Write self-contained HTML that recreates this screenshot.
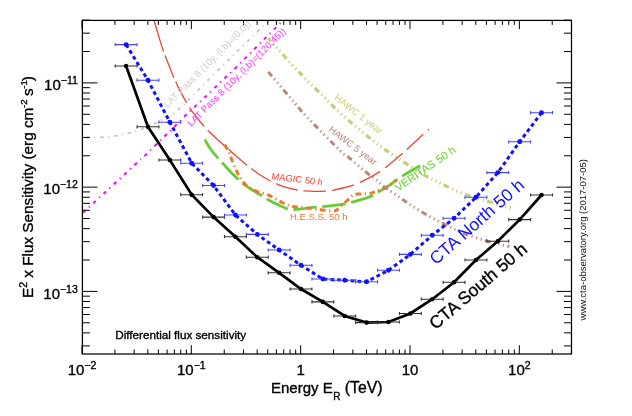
<!DOCTYPE html>
<html><head><meta charset="utf-8"><style>html,body{margin:0;padding:0;background:#fff;width:632px;height:416px;overflow:hidden}svg{display:block}</style></head><body>
<svg width="632" height="416" viewBox="0 0 632 416">
<rect width="632" height="416" fill="#fff"/>
<defs><clipPath id="fr"><rect x="82.4" y="20.4" width="489.1" height="333.6"/></clipPath></defs>
<g clip-path="url(#fr)" fill="none">
<path d="M82,137.6 C85,137.55 94.77,137.52 100,137.3 C105.23,137.08 108.8,136.95 113.4,136.3 C118,135.65 123.17,134.52 127.6,133.4 C132.03,132.28 135.43,131.27 140,129.6 C144.57,127.93 150.83,125.27 155,123.4 C159.17,121.53 162.07,119.9 165,118.4 C167.93,116.9 169.63,116.57 172.6,114.4 C175.57,112.23 179.48,108.48 182.8,105.4 C186.12,102.32 188.53,99.85 192.5,95.9 C196.47,91.95 201,87.32 206.6,81.7 C212.2,76.08 219.48,68.72 226.1,62.2 C232.72,55.68 239.15,49.58 246.3,42.6 C253.45,35.62 265.05,24.23 269,20.3 C272.95,16.37 269.83,19.22 270,19" stroke="#c8c8c8" stroke-width="1.8" stroke-dasharray="3.48 4.64 1.16 4.64" stroke-dashoffset="9.8"/>
<path d="M82,213.7 C85.77,210.22 95.8,200.95 104.6,192.8 C113.4,184.65 128.07,171.02 134.8,164.8 C141.53,158.58 140.05,160.25 145,155.5 C149.95,150.75 160.37,140.32 164.5,136.3 C168.63,132.28 166.52,134.68 169.8,131.4 C173.08,128.12 180.12,120.63 184.2,116.6 C188.28,112.57 190.93,110.37 194.3,107.2 C197.67,104.03 199.4,102.37 204.4,97.6 C209.4,92.83 219.3,83.35 224.3,78.6 C229.3,73.85 231.08,72.32 234.4,69.1 C237.72,65.88 240.93,62.58 244.2,59.3 C247.47,56.02 250.75,52.67 254,49.4 C257.25,46.13 260.47,42.93 263.7,39.7 C266.93,36.47 270.08,33.35 273.4,30 C276.72,26.65 281.67,21.6 283.6,19.6 C285.53,17.6 284.77,18.27 285,18" stroke="#ff00ff" stroke-width="2" stroke-dasharray="3.48 4.64 1.16 4.64" stroke-dashoffset="12.4"/>
<path d="M153.7,19 C154.5,21.75 156.9,30.22 158.5,35.5 C160.1,40.78 161.63,45.92 163.3,50.7 C164.97,55.48 166.75,59.75 168.5,64.2 C170.25,68.65 171.88,73 173.8,77.4 C175.72,81.8 177.9,86.43 180,90.6 C182.1,94.77 184.23,98.73 186.4,102.4 C188.57,106.07 190.07,108.63 193,112.6 C195.93,116.57 200.33,122.08 204,126.2 C207.67,130.32 211.35,133.85 215,137.3 C218.65,140.75 222.57,143.97 225.9,146.9 C229.23,149.83 231.55,151.88 235,154.9 C238.45,157.92 242.77,161.9 246.6,165 C250.43,168.1 254.03,170.83 258,173.5 C261.97,176.17 266.73,179.03 270.4,181 C274.07,182.97 276.73,184.07 280,185.3 C283.27,186.53 287,187.58 290,188.4 C293,189.22 295.63,189.78 298,190.2 C300.37,190.62 301.37,190.72 304.2,190.9 C307.03,191.08 311.3,191.28 315,191.3 C318.7,191.32 323.5,191.17 326.4,191 C329.3,190.83 329.63,190.8 332.4,190.3 C335.17,189.8 339.4,188.92 343,188 C346.6,187.08 351.17,185.73 354,184.8 C356.83,183.87 357.33,183.63 360,182.4 C362.67,181.17 366.68,179.2 370,177.4 C373.32,175.6 377.35,173.2 379.9,171.6 C382.45,170 383.62,169.08 385.3,167.8 C386.98,166.52 387.55,165.95 390,163.9 C392.45,161.85 396.67,158.38 400,155.5 C403.33,152.62 406.12,150.13 410,146.6 C413.88,143.07 420.13,137.18 423.3,134.3 C426.47,131.42 428.05,130.13 429,129.3" stroke="#ee4433" stroke-width="1.3" stroke-dasharray="34.03 4.04 24.25 3.92 23.99 5.78 23.78 4.98 24.34 4.13 24.29 5.34 23.22 6 22.78 5.85 22.21 6.24 22.71 6.47 22.78 6.36 22.74 5.62 22.43 6 6.58 0"/>
<path d="M204.8,139.5 C205.8,141.17 208.55,146.33 210.8,149.5 C213.05,152.67 216.22,156.1 218.3,158.5 C220.38,160.9 221.35,161.78 223.3,163.9 C225.25,166.02 227.68,168.77 230,171.2 C232.32,173.63 235.03,176.42 237.2,178.5 C239.37,180.58 240.62,181.87 243,183.7 C245.38,185.53 248.62,187.65 251.5,189.5 C254.38,191.35 257.22,192.92 260.3,194.8 C263.38,196.68 265.75,198.57 270,200.8 C274.25,203.03 282,206.75 285.8,208.2 C289.6,209.65 289.93,209.4 292.8,209.5 C295.67,209.6 299.32,209.18 303,208.8 C306.68,208.42 311.75,207.55 314.9,207.2 C318.05,206.85 317.15,207.2 321.9,206.7 C326.65,206.2 337.05,205.35 343.4,204.2 C349.75,203.05 355.42,201.1 360,199.8 C364.58,198.5 367.9,197.67 370.9,196.4 C373.9,195.13 374.82,194.12 378,192.2 C381.18,190.28 386.22,187.43 390,184.9 C393.78,182.37 397.37,179.23 400.7,177 C404.03,174.77 406.8,173.38 410,171.5 C413.2,169.62 418.25,166.67 419.9,165.7" stroke="#66cc33" stroke-width="2.8" stroke-dasharray="23.2 5.8"/>
<path d="M224.5,144.5 C225.22,145.7 227.6,149.2 228.8,151.7 C230,154.2 230.53,156.63 231.7,159.5 C232.87,162.37 234.63,166.27 235.8,168.9 C236.97,171.53 237.27,172.9 238.7,175.3 C240.13,177.7 242.52,181.13 244.4,183.3 C246.28,185.47 247.83,186.92 250,188.3 C252.17,189.68 254.23,190.43 257.4,191.6 C260.57,192.77 265.63,193.87 269,195.3 C272.37,196.73 274.9,198.75 277.6,200.2 C280.3,201.65 282.67,202.95 285.2,204 C287.73,205.05 289.43,205.87 292.8,206.5 C296.17,207.13 300.77,207.27 305.4,207.8 C310.03,208.33 316.17,209.17 320.6,209.7 C325.03,210.23 329.25,211 332,211 C334.75,211 334.77,211.28 337.1,209.7 C339.43,208.12 343.18,204 346,201.5 C348.82,199 351.18,195.95 354,194.7 C356.82,193.45 360.08,194.27 362.9,194 C365.72,193.73 368.38,193.65 370.9,193.1 C373.42,192.55 375.48,191.65 378,190.7 C380.52,189.75 382.92,189.18 386,187.4 C389.08,185.62 394.75,181.23 396.5,180" stroke="#ee7733" stroke-width="3" stroke-dasharray="5.8 3.48 1.16 3.48"/>
<path d="M268.3,38.3 C273.58,44.12 290.72,63.43 300,73.2 C309.28,82.97 317.33,90.3 324,96.9 C330.67,103.5 331.83,105.5 340,112.8 C348.17,120.1 363.38,133.15 373,140.7 C382.62,148.25 389.07,152.33 397.7,158.1 C406.33,163.87 417.75,171.15 424.8,175.3 C431.85,179.45 433.22,179.78 440,183 C446.78,186.22 453.68,190.43 465.5,194.6 C477.32,198.77 503.33,205.77 510.9,208" stroke="#cccc77" stroke-width="3.2" stroke-dasharray="5.8 3.48 1.16 3.48 1.16 3.48 1.16 3.48" stroke-dashoffset="1.7"/>
<path d="M268.3,71.9 C271.98,76.23 283.87,90.28 290.4,97.9 C296.93,105.52 298.9,108.52 307.5,117.6 C316.1,126.68 335.05,145.7 342,152.4 C348.95,159.1 345.2,154.5 349.2,157.8 C353.2,161.1 361.58,168.6 366,172.2 C370.42,175.8 372.68,176.98 375.7,179.4 C378.72,181.82 379.75,183.43 384.1,186.7 C388.45,189.97 395.82,194.97 401.8,199 C407.78,203.03 413.37,206.93 420,210.9 C426.63,214.87 434.38,219.08 441.6,222.8 C448.82,226.52 456.07,230.25 463.3,233.2 C470.53,236.15 479.08,238.7 485,240.5 C490.92,242.3 494.73,243.02 498.8,244 C502.87,244.98 507.63,246 509.4,246.4" stroke="#bb8877" stroke-width="3" stroke-dasharray="5.8 3.48 1.16 3.48 1.16 3.48 1.16 3.48"/>
</g>
<path d="M126.1,66 L147.97,126.8 L169.83,160 L191.69,194.7 L213.56,217.1 L235.42,236.7 L257.29,257.2 L279.15,272.8 L301.02,289 L322.88,301.9 L344.75,316 L366.62,322.6 L388.48,322 L410.35,313.5 L432.21,299.2 L454.07,282.3 L475.94,260 L497.8,241.2 L519.67,219.6 L541.53,195" fill="none" stroke="#000" stroke-width="2.7"/><path d="M115.17,66 H137.03 M115.17,64.4 V67.6 M137.03,64.4 V67.6 M137.03,126.8 H158.9 M137.03,125.2 V128.4 M158.9,125.2 V128.4 M158.9,160 H180.76 M158.9,158.4 V161.6 M180.76,158.4 V161.6 M180.76,194.7 H202.62 M180.76,193.1 V196.3 M202.62,193.1 V196.3 M202.63,217.1 H224.49 M202.63,215.5 V218.7 M224.49,215.5 V218.7 M224.49,236.7 H246.35 M224.49,235.1 V238.3 M246.35,235.1 V238.3 M246.36,257.2 H268.22 M246.36,255.6 V258.8 M268.22,255.6 V258.8 M268.22,272.8 H290.08 M268.22,271.2 V274.4 M290.08,271.2 V274.4 M290.09,289 H311.95 M290.09,287.4 V290.6 M311.95,287.4 V290.6 M311.95,301.9 H333.81 M311.95,300.3 V303.5 M333.81,300.3 V303.5 M333.82,316 H355.68 M333.82,314.4 V317.6 M355.68,314.4 V317.6 M355.69,322.6 H377.55 M355.69,321 V324.2 M377.55,321 V324.2 M377.55,322 H399.41 M377.55,320.4 V323.6 M399.41,320.4 V323.6 M399.42,313.5 H421.28 M399.42,311.9 V315.1 M421.28,311.9 V315.1 M421.28,299.2 H443.14 M421.28,297.6 V300.8 M443.14,297.6 V300.8 M443.14,282.3 H465 M443.14,280.7 V283.9 M465,280.7 V283.9 M465.01,260 H486.87 M465.01,258.4 V261.6 M486.87,258.4 V261.6 M486.87,241.2 H508.73 M486.87,239.6 V242.8 M508.73,239.6 V242.8 M508.74,219.6 H530.6 M508.74,218 V221.2 M530.6,218 V221.2 M530.61,195 H552.46 M530.61,193.4 V196.6 M552.46,193.4 V196.6 " fill="none" stroke="#333" stroke-width="1.1"/><circle cx="126.1" cy="66" r="2.3" fill="#000"/><circle cx="147.97" cy="126.8" r="2.3" fill="#000"/><circle cx="169.83" cy="160" r="2.3" fill="#000"/><circle cx="191.69" cy="194.7" r="2.3" fill="#000"/><circle cx="213.56" cy="217.1" r="2.3" fill="#000"/><circle cx="235.42" cy="236.7" r="2.3" fill="#000"/><circle cx="257.29" cy="257.2" r="2.3" fill="#000"/><circle cx="279.15" cy="272.8" r="2.3" fill="#000"/><circle cx="301.02" cy="289" r="2.3" fill="#000"/><circle cx="322.88" cy="301.9" r="2.3" fill="#000"/><circle cx="344.75" cy="316" r="2.3" fill="#000"/><circle cx="366.62" cy="322.6" r="2.3" fill="#000"/><circle cx="388.48" cy="322" r="2.3" fill="#000"/><circle cx="410.35" cy="313.5" r="2.3" fill="#000"/><circle cx="432.21" cy="299.2" r="2.3" fill="#000"/><circle cx="454.07" cy="282.3" r="2.3" fill="#000"/><circle cx="475.94" cy="260" r="2.3" fill="#000"/><circle cx="497.8" cy="241.2" r="2.3" fill="#000"/><circle cx="519.67" cy="219.6" r="2.3" fill="#000"/><circle cx="541.53" cy="195" r="2.3" fill="#000"/>
<path d="M126.1,44.6 L147.97,80.2 L169.83,122.2 L191.69,163.2 L213.56,185.5 L235.42,215 L257.29,234.4 L279.15,250 L301.02,265.3 L322.88,279 L344.75,280.3 L366.62,281.8 L388.48,270.2 L410.35,254.4 L432.21,235.3 L454.07,218.3 L475.94,197.3 L497.8,172.6 L519.67,141.8 L541.53,112.7" fill="none" stroke="#1010ff" stroke-width="3.0" stroke-dasharray="3.8 3.0"/><path d="M115.17,44.6 H137.03 M115.17,43 V46.2 M137.03,43 V46.2 M137.03,80.2 H158.9 M137.03,78.6 V81.8 M158.9,78.6 V81.8 M158.9,122.2 H180.76 M158.9,120.6 V123.8 M180.76,120.6 V123.8 M180.76,163.2 H202.62 M180.76,161.6 V164.8 M202.62,161.6 V164.8 M202.63,185.5 H224.49 M202.63,183.9 V187.1 M224.49,183.9 V187.1 M224.49,215 H246.35 M224.49,213.4 V216.6 M246.35,213.4 V216.6 M246.36,234.4 H268.22 M246.36,232.8 V236 M268.22,232.8 V236 M268.22,250 H290.08 M268.22,248.4 V251.6 M290.08,248.4 V251.6 M290.09,265.3 H311.95 M290.09,263.7 V266.9 M311.95,263.7 V266.9 M311.95,279 H333.81 M311.95,277.4 V280.6 M333.81,277.4 V280.6 M333.82,280.3 H355.68 M333.82,278.7 V281.9 M355.68,278.7 V281.9 M355.69,281.8 H377.55 M355.69,280.2 V283.4 M377.55,280.2 V283.4 M377.55,270.2 H399.41 M377.55,268.6 V271.8 M399.41,268.6 V271.8 M399.42,254.4 H421.28 M399.42,252.8 V256 M421.28,252.8 V256 M421.28,235.3 H443.14 M421.28,233.7 V236.9 M443.14,233.7 V236.9 M443.14,218.3 H465 M443.14,216.7 V219.9 M465,216.7 V219.9 M465.01,197.3 H486.87 M465.01,195.7 V198.9 M486.87,195.7 V198.9 M486.87,172.6 H508.73 M486.87,171 V174.2 M508.73,171 V174.2 M508.74,141.8 H530.6 M508.74,140.2 V143.4 M530.6,140.2 V143.4 M530.61,112.7 H552.46 M530.61,111.1 V114.3 M552.46,111.1 V114.3 " fill="none" stroke="#4545ff" stroke-width="1.1"/><circle cx="126.1" cy="44.6" r="2.45" fill="#1010ff"/><circle cx="147.97" cy="80.2" r="2.45" fill="#1010ff"/><circle cx="169.83" cy="122.2" r="2.45" fill="#1010ff"/><circle cx="191.69" cy="163.2" r="2.45" fill="#1010ff"/><circle cx="213.56" cy="185.5" r="2.45" fill="#1010ff"/><circle cx="235.42" cy="215" r="2.45" fill="#1010ff"/><circle cx="257.29" cy="234.4" r="2.45" fill="#1010ff"/><circle cx="279.15" cy="250" r="2.45" fill="#1010ff"/><circle cx="301.02" cy="265.3" r="2.45" fill="#1010ff"/><circle cx="322.88" cy="279" r="2.45" fill="#1010ff"/><circle cx="344.75" cy="280.3" r="2.45" fill="#1010ff"/><circle cx="366.62" cy="281.8" r="2.45" fill="#1010ff"/><circle cx="388.48" cy="270.2" r="2.45" fill="#1010ff"/><circle cx="410.35" cy="254.4" r="2.45" fill="#1010ff"/><circle cx="432.21" cy="235.3" r="2.45" fill="#1010ff"/><circle cx="454.07" cy="218.3" r="2.45" fill="#1010ff"/><circle cx="475.94" cy="197.3" r="2.45" fill="#1010ff"/><circle cx="497.8" cy="172.6" r="2.45" fill="#1010ff"/><circle cx="519.67" cy="141.8" r="2.45" fill="#1010ff"/><circle cx="541.53" cy="112.7" r="2.45" fill="#1010ff"/>
<path d="M82,354 v-8.8 M82,20.4 v8.8 M114.91,354 v-4.5 M114.91,20.4 v4.5 M134.16,354 v-4.5 M134.16,20.4 v4.5 M147.82,354 v-4.5 M147.82,20.4 v4.5 M158.42,354 v-4.5 M158.42,20.4 v4.5 M167.08,354 v-4.5 M167.08,20.4 v4.5 M174.39,354 v-4.5 M174.39,20.4 v4.5 M180.73,354 v-4.5 M180.73,20.4 v4.5 M186.33,354 v-4.5 M186.33,20.4 v4.5 M191.33,354 v-8.8 M191.33,20.4 v8.8 M224.24,354 v-4.5 M224.24,20.4 v4.5 M243.49,354 v-4.5 M243.49,20.4 v4.5 M257.15,354 v-4.5 M257.15,20.4 v4.5 M267.75,354 v-4.5 M267.75,20.4 v4.5 M276.41,354 v-4.5 M276.41,20.4 v4.5 M283.72,354 v-4.5 M283.72,20.4 v4.5 M290.06,354 v-4.5 M290.06,20.4 v4.5 M295.66,354 v-4.5 M295.66,20.4 v4.5 M300.66,354 v-8.8 M300.66,20.4 v8.8 M333.57,354 v-4.5 M333.57,20.4 v4.5 M352.82,354 v-4.5 M352.82,20.4 v4.5 M366.48,354 v-4.5 M366.48,20.4 v4.5 M377.08,354 v-4.5 M377.08,20.4 v4.5 M385.74,354 v-4.5 M385.74,20.4 v4.5 M393.05,354 v-4.5 M393.05,20.4 v4.5 M399.39,354 v-4.5 M399.39,20.4 v4.5 M404.99,354 v-4.5 M404.99,20.4 v4.5 M409.99,354 v-8.8 M409.99,20.4 v8.8 M442.9,354 v-4.5 M442.9,20.4 v4.5 M462.15,354 v-4.5 M462.15,20.4 v4.5 M475.81,354 v-4.5 M475.81,20.4 v4.5 M486.41,354 v-4.5 M486.41,20.4 v4.5 M495.07,354 v-4.5 M495.07,20.4 v4.5 M502.38,354 v-4.5 M502.38,20.4 v4.5 M508.72,354 v-4.5 M508.72,20.4 v4.5 M514.32,354 v-4.5 M514.32,20.4 v4.5 M519.32,354 v-8.8 M519.32,20.4 v8.8 M552.23,354 v-4.5 M552.23,20.4 v4.5 M571.48,354 v-4.5 M571.48,20.4 v4.5 M82.4,345.91 h7.5 M571.5,345.91 h-7.5 M82.4,332.89 h7.5 M571.5,332.89 h-7.5 M82.4,322.78 h7.5 M571.5,322.78 h-7.5 M82.4,314.53 h7.5 M571.5,314.53 h-7.5 M82.4,307.55 h7.5 M571.5,307.55 h-7.5 M82.4,301.5 h7.5 M571.5,301.5 h-7.5 M82.4,296.17 h7.5 M571.5,296.17 h-7.5 M82.4,291.4 h15 M571.5,291.4 h-15 M82.4,260.02 h7.5 M571.5,260.02 h-7.5 M82.4,241.66 h7.5 M571.5,241.66 h-7.5 M82.4,228.64 h7.5 M571.5,228.64 h-7.5 M82.4,218.53 h7.5 M571.5,218.53 h-7.5 M82.4,210.28 h7.5 M571.5,210.28 h-7.5 M82.4,203.3 h7.5 M571.5,203.3 h-7.5 M82.4,197.25 h7.5 M571.5,197.25 h-7.5 M82.4,191.92 h7.5 M571.5,191.92 h-7.5 M82.4,187.15 h15 M571.5,187.15 h-15 M82.4,155.77 h7.5 M571.5,155.77 h-7.5 M82.4,137.41 h7.5 M571.5,137.41 h-7.5 M82.4,124.39 h7.5 M571.5,124.39 h-7.5 M82.4,114.28 h7.5 M571.5,114.28 h-7.5 M82.4,106.03 h7.5 M571.5,106.03 h-7.5 M82.4,99.05 h7.5 M571.5,99.05 h-7.5 M82.4,93 h7.5 M571.5,93 h-7.5 M82.4,87.67 h7.5 M571.5,87.67 h-7.5 M82.4,82.9 h15 M571.5,82.9 h-15 M82.4,51.52 h7.5 M571.5,51.52 h-7.5 M82.4,33.16 h7.5 M571.5,33.16 h-7.5 M82.4,20.14 h7.5 M571.5,20.14 h-7.5 " stroke="#000" stroke-width="1" fill="none"/>
<rect x="82.4" y="20.4" width="489.1" height="333.6" fill="none" stroke="#000" stroke-width="1.25"/>
<text x="82" y="375" font-family="Liberation Sans, Arial, Helvetica, sans-serif" font-size="15" text-anchor="middle" stroke="#000" stroke-width="0.35">10<tspan font-size="10.5" dy="-6">−2</tspan></text>
<text x="191.33" y="375" font-family="Liberation Sans, Arial, Helvetica, sans-serif" font-size="15" text-anchor="middle" stroke="#000" stroke-width="0.35">10<tspan font-size="10.5" dy="-6">−1</tspan></text>
<text x="519.32" y="375" font-family="Liberation Sans, Arial, Helvetica, sans-serif" font-size="15" text-anchor="middle" stroke="#000" stroke-width="0.35">10<tspan font-size="10.5" dy="-6">2</tspan></text>
<text x="300.66" y="375" font-family="Liberation Sans, Arial, Helvetica, sans-serif" font-size="15" text-anchor="middle" stroke="#000" stroke-width="0.35">1</text>
<text x="409.99" y="375" font-family="Liberation Sans, Arial, Helvetica, sans-serif" font-size="15" text-anchor="middle" stroke="#000" stroke-width="0.35">10</text>
<text x="77.8" y="90.2" font-family="Liberation Sans, Arial, Helvetica, sans-serif" font-size="15" text-anchor="end" stroke="#000" stroke-width="0.35">10<tspan font-size="10.5" dy="-6">−11</tspan></text>
<text x="77.8" y="194.45" font-family="Liberation Sans, Arial, Helvetica, sans-serif" font-size="15" text-anchor="end" stroke="#000" stroke-width="0.35">10<tspan font-size="10.5" dy="-6">−12</tspan></text>
<text x="77.8" y="298.7" font-family="Liberation Sans, Arial, Helvetica, sans-serif" font-size="15" text-anchor="end" stroke="#000" stroke-width="0.35">10<tspan font-size="10.5" dy="-6">−13</tspan></text>
<text x="271" y="392.5" font-family="Liberation Sans, Arial, Helvetica, sans-serif" font-size="15" stroke="#000" stroke-width="0.35">Energy E<tspan font-size="10" dx="0.6" dy="7">R</tspan><tspan dy="-7" dx="-0.2" font-size="15.8"> (TeV)</tspan></text>
<text transform="translate(32.8,298) rotate(-90)" font-family="Liberation Sans, Arial, Helvetica, sans-serif" font-size="15.3" stroke="#000" stroke-width="0.35">E<tspan font-size="10.5" dy="-6">2</tspan><tspan dy="6"> x Flux Sensitivity (erg cm</tspan><tspan font-size="9.6" dy="-6" dx="-0.3">-2</tspan><tspan dy="6" dx="-0.8"> s</tspan><tspan font-size="9.6" dy="-6" dx="-0.3">-1</tspan><tspan dy="6" dx="-1.2">)</tspan></text>
<text x="115.2" y="339.4" font-family="Liberation Sans, Arial, Helvetica, sans-serif" font-size="11.7" stroke="#000" stroke-width="0.35">Differential flux sensitivity</text>
<text transform="translate(585.6,320.4) rotate(-90)" font-family="Liberation Sans, Arial, Helvetica, sans-serif" font-size="9.5" fill="#111">www.cta-observatory.org (2017-07-05)</text>
<text transform="translate(436,265.6) rotate(-41.4)" font-family="Liberation Sans, Arial, Helvetica, sans-serif" font-size="17.5" fill="#1010ff">CTA North 50 h</text>
<text transform="translate(435.4,330.3) rotate(-40.5)" font-family="Liberation Sans, Arial, Helvetica, sans-serif" font-size="17.5" fill="#000" stroke="#000" stroke-width="0.35">CTA South 50 h</text>
<text transform="translate(167.6,108.2) rotate(-45)" font-family="Liberation Sans, Arial, Helvetica, sans-serif" font-size="9.5" fill="#cdcdcd">LAT Pass 8 (10y, (l,b)=(0,0))</text>
<text transform="translate(191.3,126.9) rotate(-45)" font-family="Liberation Sans, Arial, Helvetica, sans-serif" font-size="9.5" fill="#ff30ff">LAT Pass 8 (10y, (l,b)=(120,45))</text>
<text transform="translate(333.8,98.8) rotate(38)" font-family="Liberation Sans, Arial, Helvetica, sans-serif" font-size="9.5" fill="#cccc77">HAWC 1 year</text>
<text transform="translate(328,130.8) rotate(37)" font-family="Liberation Sans, Arial, Helvetica, sans-serif" font-size="9.5" fill="#bb8877">HAWC 5 year</text>
<text transform="translate(271.6,179.2) skewY(7)" font-family="Liberation Sans, Arial, Helvetica, sans-serif" font-size="9.3" font-style="italic" fill="#ee4433">MAGIC 50 h</text>
<text x="290" y="220.4" font-family="Liberation Sans, Arial, Helvetica, sans-serif" font-size="9.5" fill="#ee7733">H.E.S.S. 50 h</text>
<text transform="translate(398.3,191.7) rotate(-34.5)" font-family="Liberation Sans, Arial, Helvetica, sans-serif" font-size="11" fill="#66cc33">VERITAS 50 h</text>
</svg>
</body></html>
